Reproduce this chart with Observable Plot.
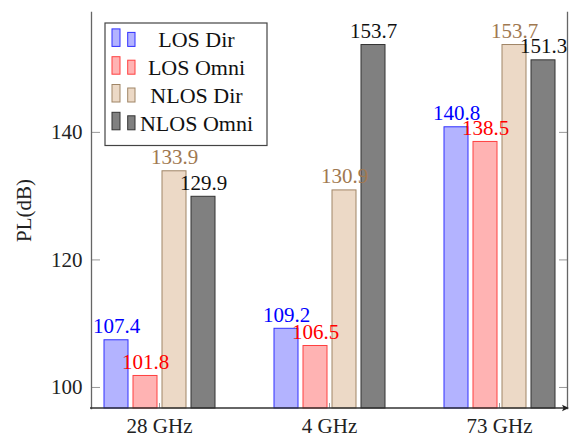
<!DOCTYPE html>
<html><head><meta charset="utf-8">
<script src="https://cdn.jsdelivr.net/npm/d3@7"></script>
<script src="https://cdn.jsdelivr.net/npm/@observablehq/plot@0.6"></script>
<style>
body{margin:0;background:#fff}
svg{font-family:"Liberation Serif","Times New Roman",serif !important}
</style>
</head><body><div id="chart"></div>
<script>
const groups = ["28 GHz", "4 GHz", "73 GHz"];
const seriesNames = ["LOS Dir", "LOS Omni", "NLOS Dir", "NLOS Omni"];
const losDir = [107.4, 109.2, 140.8];
const losOmni = [101.8, 106.5, 138.5];
const nlosDir = [133.9, 130.9, 153.7];
const nlosOmni = [129.9, 153.7, 151.3];
const yTicks = [100, 120, 140];
const yDomain = [96.7, 158.8];
const fills = ["#b3b3ff", "#ffb3b3", "#ecd9c6", "#808080"];
const strokes = ["#3030ff", "#ff4040", "#a08566", "#333333"];
const textColors = ["#0000ff", "#ff0000", "#a07850", "#111111"];

const seriesValues = [losDir, losOmni, nlosDir, nlosOmni];
const data = [];
groups.forEach((g, gi) => seriesNames.forEach((s, si) =>
  data.push({group: g, series: s, si, value: seriesValues[si][gi]})));

const plot = Plot.plot({
  width: 570, height: 437,
  marginLeft: 90, marginRight: 2, marginTop: 12, marginBottom: 29,
  style: {fontFamily: '"Liberation Serif", serif', fontSize: "21px", background: "white", color: "#222"},
  fx: {domain: groups, paddingInner: 0.2, paddingOuter: 0, axis: null, label: null},
  x: {domain: seriesNames, paddingInner: 0.186, paddingOuter: 0.405, axis: null},
  y: {domain: yDomain, ticks: yTicks, axis: null},
  color: {type: "identity"},
  marks: [
    Plot.barY(data, {fx: "group", x: "series", y1: yDomain[0], y2: "value",
      fill: d => fills[d.si], stroke: d => strokes[d.si], strokeWidth: 1}),
    Plot.text(data, {fx: "group", x: "series", y: "value", text: d => d.value.toFixed(1),
      fill: d => textColors[d.si], lineAnchor: "bottom", dy: -7, fontSize: 21}),
    Plot.axisY({anchor: "left", ticks: yTicks, tickSize: 0, tickPadding: 9, fontSize: 21, fill: "#222",
      label: "PL(dB)", labelAnchor: "center", labelArrow: "none", labelOffset: 75}),
    Plot.axisY({anchor: "left", ticks: yTicks, tickSize: -9, fill: "none", stroke: "#999", label: null}),
    Plot.axisY({anchor: "right", ticks: yTicks, tickSize: -9, fill: "none", stroke: "#999", label: null}),
    Plot.axisFx({anchor: "bottom", tickSize: 0, tickPadding: 10, fontSize: 21, fill: "#222", label: null}),
    Plot.axisFx({anchor: "bottom", tickSize: -5, fill: "none", stroke: "#999", label: null}),
    Plot.frame({anchor: "left", facetAnchor: "left", stroke: "#666", strokeWidth: 1.3}),
    Plot.frame({anchor: "right", facetAnchor: "right", stroke: "#666", strokeWidth: 1.3})
  ]
});

document.getElementById("chart").appendChild(plot);

// x axis line with arrow and the legend box
const svg = d3.select(plot);
const ys = plot.scale("y"), fxs = plot.scale("fx");
const yb = ys.apply(yDomain[0]);
const xl = fxs.range[0], xr = fxs.range[1];
svg.append("line").attr("x1", xl).attr("x2", xr - 3).attr("y1", yb).attr("y2", yb)
  .attr("stroke", "#333").attr("stroke-width", 1.3);
svg.append("path").attr("d", `M${xr + 1},${yb} L${xr - 6},${yb - 3.2} L${xr - 4.5},${yb} L${xr - 6},${yb + 3.2} Z`)
  .attr("fill", "#222");

const bx = xl + 15, by = ys.range[1] + 11;
const lg = svg.append("g");
lg.append("rect").attr("x", bx).attr("y", by).attr("width", 162).attr("height", 122.5)
  .attr("fill", "white").attr("stroke", "#444").attr("stroke-width", 1.2);
seriesNames.forEach((s, i) => {
  const base = by + 24.4 + i * 27.8;
  lg.append("rect").attr("x", bx + 7).attr("y", base - 18.5).attr("width", 8).attr("height", 17.5)
    .attr("fill", fills[i]).attr("stroke", strokes[i]);
  lg.append("rect").attr("x", bx + 22.7).attr("y", base - 15).attr("width", 7.3).attr("height", 14)
    .attr("fill", fills[i]).attr("stroke", strokes[i]);
  lg.append("text").attr("x", bx + 91.5).attr("y", base).attr("text-anchor", "middle")
    .attr("font-size", 22).attr("fill", "#111").text(s);
});
</script>
</body></html>
